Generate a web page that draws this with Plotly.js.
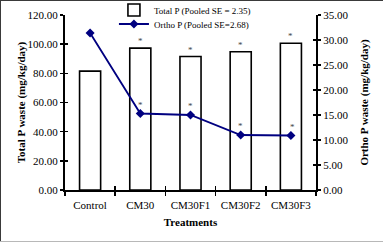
<!DOCTYPE html>
<html>
<head>
<meta charset="utf-8">
<script src="https://cdn.plot.ly/plotly-3.0.1.min.js"></script>
<style>
html,body{margin:0;padding:0;background:#fff;}
#wrap{position:relative;width:383px;height:244px;overflow:hidden;}
#chart{position:absolute;left:0;top:0;width:383px;height:244px;}
.b{position:absolute;pointer-events:none;}
</style>
</head>
<body>
<div id="wrap">
<div id="chart"></div>
<div class="b" style="left:0;top:0;width:383px;height:1px;background:#3a3a3a;"></div>
<div class="b" style="left:0;top:0;width:1px;height:242px;background:#3a3a3a;"></div>
<div class="b" style="left:0;top:241px;width:383px;height:1px;background:#b8b8b8;"></div>
</div>
<script>
var categories = ['Control', 'CM30', 'CM30F1', 'CM30F2', 'CM30F3'];
var totalP = [81.5, 97.3, 91.5, 94.8, 100.6];
var orthoP = [31.4, 15.3, 15.0, 11.0, 10.9];
var totalStars = ['', '*', '*', '*', '*'];
var orthoStars = ['', '*', '*', '*', '*'];
var leftTicks = [0, 20, 40, 60, 80, 100, 120];
var rightTicks = [0, 5, 10, 15, 20, 25, 30, 35];

var serif = "'Liberation Serif', 'Times New Roman', serif";

var traces = [
  {
    type: 'bar', x: categories, y: totalP, name: 'Total P (Pooled SE = 2.35)',
    width: 0.42, legend: 'legend',
    marker: {color: '#ffffff', line: {color: '#000000', width: 1.6}},
    xaxis: 'x', yaxis: 'y'
  },
  {
    type: 'scatter', mode: 'lines+markers', x: categories, y: orthoP,
    name: 'Ortho P (Pooled SE=2.68)', legend: 'legend2',
    line: {color: '#000080', width: 1.8},
    marker: {symbol: 'diamond', size: 7, color: '#000080'},
    xaxis: 'x', yaxis: 'y2'
  }
];

var annotations = [];
categories.forEach(function (c, i) {
  if (totalStars[i]) {
    annotations.push({x: c, y: totalP[i], xref: 'x', yref: 'y', text: totalStars[i],
      showarrow: false, yanchor: 'bottom', yshift: 0,
      font: {family: serif, size: 9, color: '#444'}});
  }
  if (orthoStars[i]) {
    annotations.push({x: c, y: orthoP[i], xref: 'x', yref: 'y2', text: orthoStars[i],
      showarrow: false, yanchor: 'bottom', yshift: 2, xshift: (i === 4 ? 2 : 0),
      font: {family: serif, size: 9, color: '#444'}});
  }
});

var axFont = {family: serif, size: 11, color: '#000'};
var legFont = {family: serif, size: 9, color: '#000'};
var layout = {
  width: 383, height: 244,
  margin: {l: 65, r: 67, t: 15, b: 54, pad: 0, autoexpand: false},
  paper_bgcolor: '#fff', plot_bgcolor: '#fff',
  font: {family: serif, color: '#000'},
  showlegend: true,
  legend: {x: 0.195, y: 1.0286, xanchor: 'left', yanchor: 'middle',
    font: legFont, bgcolor: 'rgba(0,0,0,0)', itemwidth: 30},
  legend2: {x: 0.195, y: 0.9486, xanchor: 'left', yanchor: 'middle',
    font: legFont, bgcolor: 'rgba(0,0,0,0)', itemwidth: 30},
  bargap: 0.58,
  xaxis: {
    type: 'category', range: [-0.5, 4.5], tickson: 'boundaries',
    ticks: 'outside', ticklen: 4, tickwidth: 1.5, tickcolor: '#000',
    showline: true, linecolor: '#000', linewidth: 2, showgrid: false, zeroline: false,
    tickfont: axFont, ticklabelstandoff: 4,
    title: {text: '<b>Treatments</b>', font: {family: serif, size: 11, color: '#000'}, standoff: 8}
  },
  xaxis2: {
    type: 'category', range: [-0.5, 4.5], tickson: 'boundaries', overlaying: 'x',
    ticks: 'inside', ticklen: 4, tickwidth: 1.5, tickcolor: '#000',
    showticklabels: false, showgrid: false, zeroline: false, showline: false, anchor: 'y'
  },
  yaxis: {
    range: [0, 120], tickvals: leftTicks, tickformat: '.2f',
    ticks: 'outside', ticklen: 3, tickwidth: 1.5, tickcolor: '#000',
    showline: true, linecolor: '#000', linewidth: 2, showgrid: false, zeroline: false,
    tickfont: axFont,
    title: {text: '<b>Total P waste (mg/kg/day)</b>', font: {family: serif, size: 11, color: '#000'}, standoff: 0}
  },
  yaxis3: {
    range: [0, 120], tickvals: leftTicks, overlaying: 'y', side: 'left', anchor: 'x',
    ticks: 'inside', ticklen: 3, tickwidth: 1.5, tickcolor: '#000',
    showticklabels: false, showgrid: false, zeroline: false, showline: false
  },
  yaxis2: {
    range: [0, 35], tickvals: rightTicks, tickformat: '.2f', overlaying: 'y', side: 'right', anchor: 'x',
    ticks: 'outside', ticklen: 3, tickwidth: 1.5, tickcolor: '#000',
    showline: true, linecolor: '#000', linewidth: 2, showgrid: false, zeroline: false,
    tickfont: axFont,
    title: {text: '<b>Ortho P waste (mg/kg/day)</b>', font: {family: serif, size: 11, color: '#000'}, standoff: 13}
  },
  yaxis4: {
    range: [0, 35], tickvals: rightTicks, overlaying: 'y', side: 'right', anchor: 'x',
    ticks: 'inside', ticklen: 3, tickwidth: 1.5, tickcolor: '#000',
    showticklabels: false, showgrid: false, zeroline: false, showline: false
  },
  annotations: annotations
};

// invisible helper traces to activate the cross-tick axes
traces.push({type: 'scatter', x: categories, y: totalP, xaxis: 'x2', yaxis: 'y3', mode: 'none', showlegend: false, hoverinfo: 'skip'});
traces.push({type: 'scatter', x: categories, y: orthoP, xaxis: 'x', yaxis: 'y4', mode: 'none', showlegend: false, hoverinfo: 'skip'});

Plotly.newPlot('chart', traces, layout, {staticPlot: true, displayModeBar: false});
</script>
</body>
</html>
